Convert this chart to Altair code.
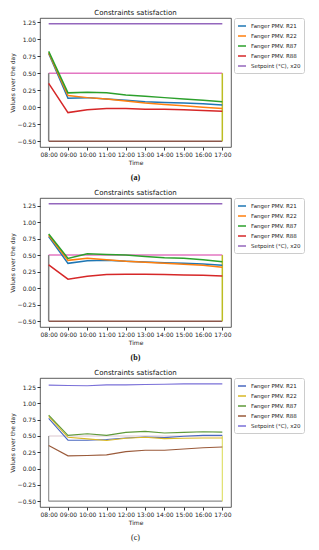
import altair as alt
import pandas as pd

times = ["08:00", "09:00", "10:00", "11:00", "12:00", "13:00", "14:00", "15:00", "16:00", "17:00"]
series_names = ["Fanger PMV. R21", "Fanger PMV. R22", "Fanger PMV. R87", "Fanger PMV. R88", "Setpoint (°C), x20"]
y_ticks = [-0.5, -0.25, 0.0, 0.25, 0.5, 0.75, 1.0, 1.25]

# Panel (a)
a_r21 = [0.79, 0.13, 0.14, 0.12, 0.10, 0.08, 0.07, 0.06, 0.05, 0.03]
a_r22 = [0.80, 0.17, 0.14, 0.12, 0.09, 0.06, 0.04, 0.02, 0.00, -0.02]
a_r87 = [0.82, 0.21, 0.22, 0.21, 0.18, 0.16, 0.14, 0.12, 0.10, 0.08]
a_r88 = [0.35, -0.08, -0.04, -0.02, -0.02, -0.03, -0.03, -0.04, -0.05, -0.06]
a_sp = [1.225, 1.225, 1.225, 1.225, 1.225, 1.225, 1.225, 1.225, 1.225, 1.225]

# Panel (b)
b_r21 = [0.78, 0.375, 0.415, 0.42, 0.405, 0.395, 0.385, 0.375, 0.365, 0.345]
b_r22 = [0.80, 0.42, 0.45, 0.43, 0.405, 0.39, 0.375, 0.36, 0.345, 0.315]
b_r87 = [0.82, 0.45, 0.52, 0.51, 0.50, 0.48, 0.46, 0.45, 0.43, 0.40]
b_r88 = [0.35, 0.135, 0.18, 0.205, 0.21, 0.21, 0.205, 0.20, 0.195, 0.185]
b_sp = [1.275, 1.275, 1.275, 1.275, 1.275, 1.275, 1.275, 1.275, 1.275, 1.275]

# Panel (c)
c_r21 = [0.77, 0.435, 0.435, 0.445, 0.47, 0.485, 0.475, 0.495, 0.51, 0.51]
c_r22 = [0.80, 0.48, 0.455, 0.43, 0.465, 0.48, 0.46, 0.465, 0.47, 0.47]
c_r87 = [0.82, 0.51, 0.535, 0.51, 0.555, 0.57, 0.545, 0.555, 0.565, 0.56]
c_r88 = [0.355, 0.195, 0.20, 0.21, 0.26, 0.28, 0.28, 0.30, 0.32, 0.33]
c_sp = [1.28, 1.275, 1.27, 1.285, 1.285, 1.29, 1.295, 1.30, 1.30, 1.30]

# bound rectangle (comfort limits)
bound_lo = -0.5
bound_hi = 0.5

colors_ab = ["#1f77b4", "#ff7f0e", "#2ca02c", "#d62728", "#9467bd"]
colors_c = ["#4a68c0", "#d9b826", "#5f9a3a", "#9a5a3a", "#7a70d8"]
bounds_ab = ["#e377c2", "#8c564b", "#7f7f7f", "#bcbd22"]
bounds_c = ["#dcc8d0", "#8c8c8c", "#8c8c8c", "#dede60"]

W = 191
H = 129


def panel(series, colors, bcols, caption, sw, cap_weight):
    rows = []
    for name, vals in zip(series_names, series):
        for t, v in zip(times, vals):
            rows.append({"time": t, "value": v, "series": name})
    df = pd.DataFrame(rows)
    ymax = max(max(s) for s in series)
    ymin = bound_lo
    span = ymax - ymin
    dom = [ymin - 0.05 * span, ymax + 0.05 * span]

    brows = [
        {"seg": "top", "time": times[0], "value": bound_hi, "col": bcols[0]},
        {"seg": "top", "time": times[-1], "value": bound_hi, "col": bcols[0]},
        {"seg": "bottom", "time": times[0], "value": bound_lo, "col": bcols[1]},
        {"seg": "bottom", "time": times[-1], "value": bound_lo, "col": bcols[1]},
        {"seg": "left", "time": times[0], "value": bound_lo, "col": bcols[2]},
        {"seg": "left", "time": times[0], "value": bound_hi, "col": bcols[2]},
        {"seg": "right", "time": times[-1], "value": bound_lo, "col": bcols[3]},
        {"seg": "right", "time": times[-1], "value": bound_hi, "col": bcols[3]},
    ]
    bdf = pd.DataFrame(brows)

    x = alt.X("time:O", sort=times, scale=alt.Scale(type="point", padding=0.45),
              axis=alt.Axis(title="Time", labelAngle=0, labelOverlap=False))
    y = alt.Y("value:Q", scale=alt.Scale(domain=dom, nice=False, zero=False),
              axis=alt.Axis(title="Values over the day", values=y_ticks, format=".2f"))

    bounds = alt.Chart(bdf).mark_line(strokeWidth=sw).encode(
        x=x, y=y, detail="seg:N", stroke=alt.Stroke("col:N", scale=None))
    lines = alt.Chart(df).mark_line(strokeWidth=sw).encode(
        x=x, y=y,
        color=alt.Color("series:N", sort=series_names,
                        scale=alt.Scale(domain=series_names, range=colors),
                        legend=alt.Legend(title=None)),
    )
    cap = alt.Chart(pd.DataFrame({"c": [caption]})).mark_text(
        font="Liberation Serif", fontSize=8, fontWeight=cap_weight, color="#111"
    ).encode(text="c:N", x=alt.value(W / 2), y=alt.value(H + 31))
    return alt.layer(bounds, lines, cap).properties(
        width=W, height=H,
        title=alt.TitleParams("Constraints satisfaction"))


pa = panel([a_r21, a_r22, a_r87, a_r88, a_sp], colors_ab, bounds_ab, "(a)", 1.5, "bold")
pb = panel([b_r21, b_r22, b_r87, b_r88, b_sp], colors_ab, bounds_ab, "(b)", 1.5, "bold")
pc = panel([c_r21, c_r22, c_r87, c_r88, c_sp], colors_c, bounds_c, "(c)", 1.1, "normal")

chart = alt.vconcat(pa, pb, pc, spacing=5).resolve_scale(color="independent").properties(
    padding={"left": 0, "top": 0, "right": 0, "bottom": 0}
).configure(font="DejaVu Sans").configure_view(
    stroke="#333", strokeWidth=0.8
).configure_axis(
    labelFontSize=6, titleFontSize=6, titleFontWeight="normal", labelColor="#222",
    titleColor="#222", domain=False, grid=False, tickColor="#333", tickSize=3,
    labelPadding=1.5, titlePadding=2
).configure_title(
    fontSize=7, fontWeight="normal", offset=2, color="#111"
).configure_legend(
    labelFontSize=5.5, symbolType="stroke", symbolStrokeWidth=1.5, symbolSize=64,
    strokeColor="#ccc", padding=3, cornerRadius=2, offset=3, rowPadding=1,
    labelLimit=120, fillColor="white", labelColor="#222"
)

chart.save("out.html", embed_options={"renderer": "svg", "actions": False})
